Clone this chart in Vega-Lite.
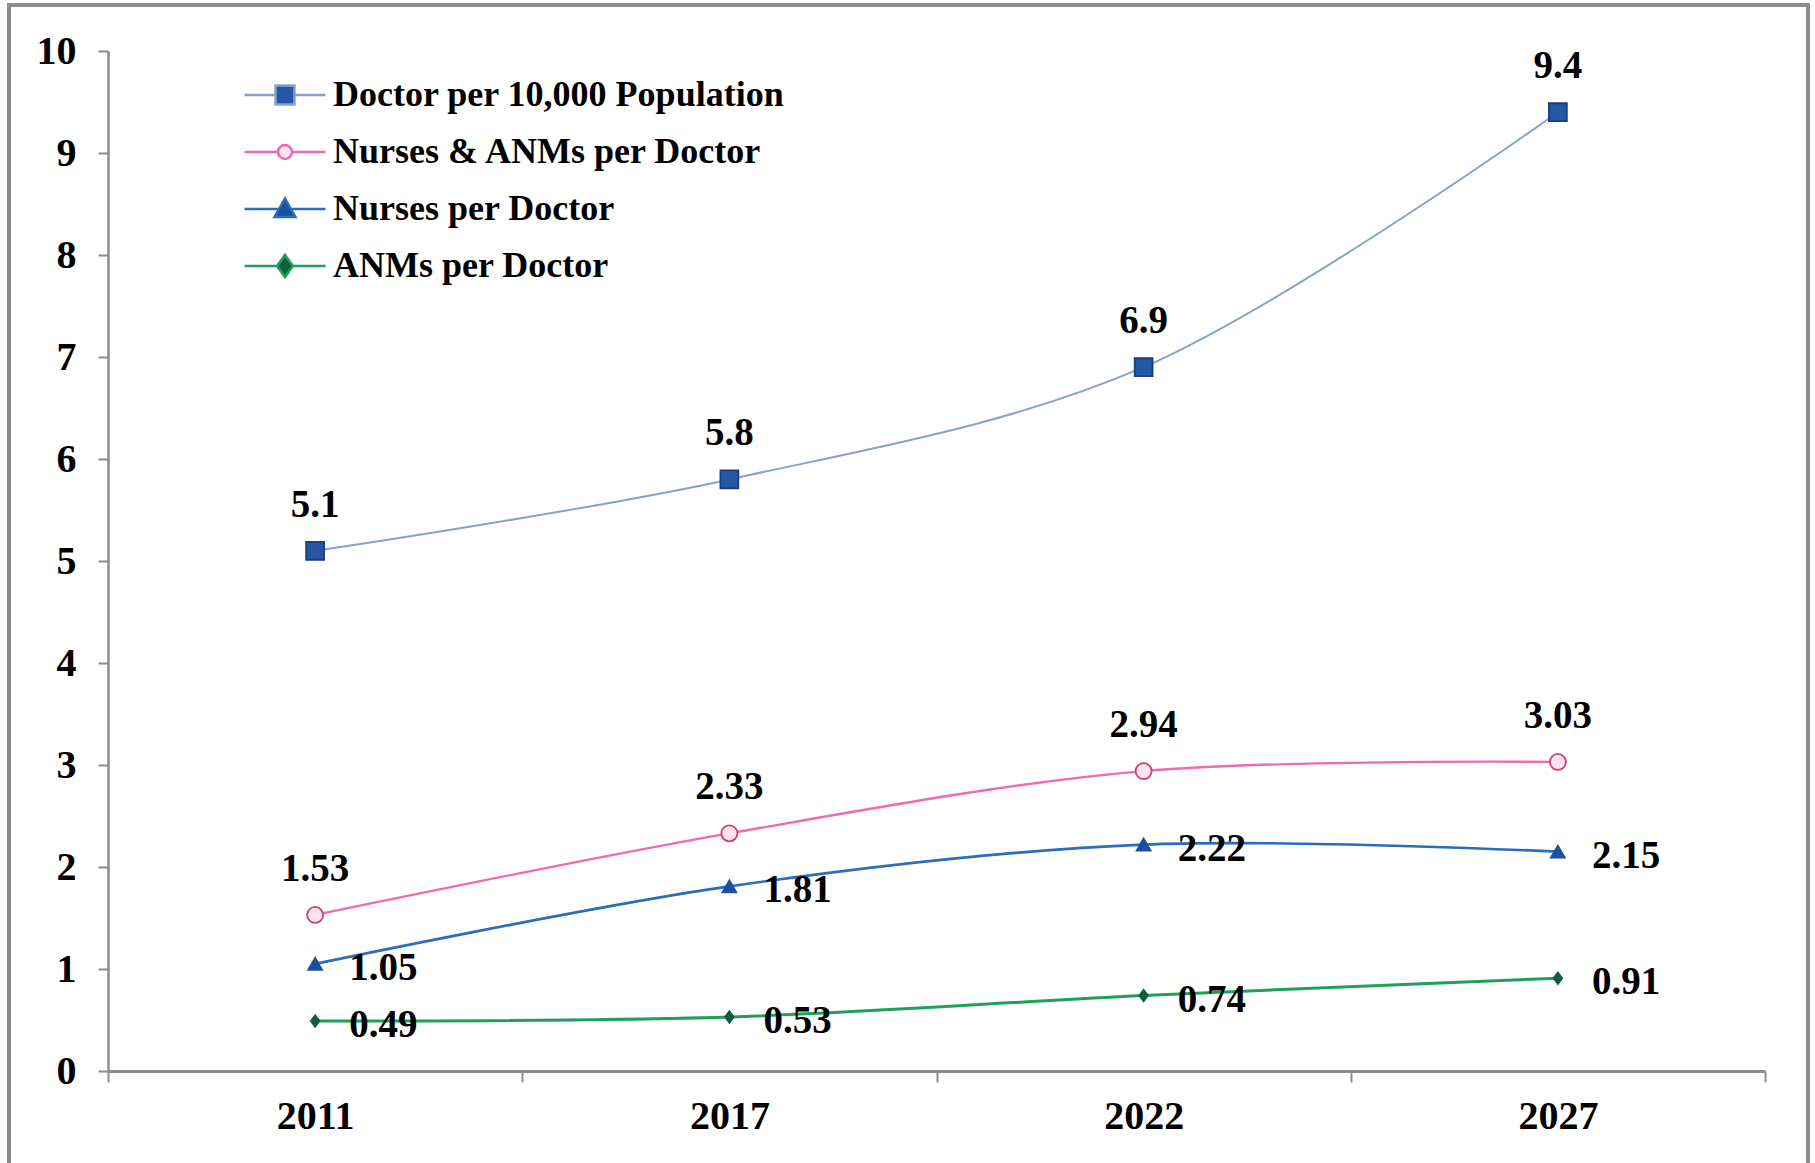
{
  "$schema": "https://vega.github.io/schema/vega-lite/v6.json",
  "width": 1799,
  "height": 1160,
  "autosize": {"type": "none"},
  "padding": {"left": 9, "top": 5, "right": 7, "bottom": 0},
  "background": "white",
  "config": {
    "view": {"stroke": "#8c8c8c", "strokeWidth": 4},
    "font": "Liberation Serif"
  },
  "data": {
    "values": [
      {"year": "2011", "series": "Doctor per 10,000 Population", "value": 5.1},
      {"year": "2017", "series": "Doctor per 10,000 Population", "value": 5.8},
      {"year": "2022", "series": "Doctor per 10,000 Population", "value": 6.9},
      {"year": "2027", "series": "Doctor per 10,000 Population", "value": 9.4},
      {"year": "2011", "series": "Nurses & ANMs per Doctor", "value": 1.53},
      {"year": "2017", "series": "Nurses & ANMs per Doctor", "value": 2.33},
      {"year": "2022", "series": "Nurses & ANMs per Doctor", "value": 2.94},
      {"year": "2027", "series": "Nurses & ANMs per Doctor", "value": 3.03},
      {"year": "2011", "series": "Nurses per Doctor", "value": 1.05},
      {"year": "2017", "series": "Nurses per Doctor", "value": 1.81},
      {"year": "2022", "series": "Nurses per Doctor", "value": 2.22},
      {"year": "2027", "series": "Nurses per Doctor", "value": 2.15},
      {"year": "2011", "series": "ANMs per Doctor", "value": 0.49},
      {"year": "2017", "series": "ANMs per Doctor", "value": 0.53},
      {"year": "2022", "series": "ANMs per Doctor", "value": 0.74},
      {"year": "2027", "series": "ANMs per Doctor", "value": 0.91}
    ]
  },
  "encoding": {
    "x": {
      "field": "year", "type": "nominal", "sort": null,
      "scale": {"type": "band", "domain": ["2011", "2017", "2022", "2027"], "range": [99, 1756], "paddingInner": 0, "paddingOuter": 0},
      "axis": {
        "orient": "bottom", "offset": -94, "title": null, "labelAngle": 0,
        "tickBand": "extent", "tickSize": 11, "tickColor": "#8c8c8c", "tickWidth": 2,
        "domainColor": "#8c8c8c", "domainWidth": 3,
        "labelFont": "Liberation Serif", "labelFontSize": 40, "labelFontWeight": "bold",
        "labelColor": "#000000", "labelPadding": 14, "grid": false
      }
    },
    "y": {
      "field": "value", "type": "quantitative",
      "scale": {"domain": [0, 10], "range": [1066, 46], "nice": false, "zero": false},
      "axis": {
        "orient": "left", "offset": -99, "title": null,
        "values": [0, 1, 2, 3, 4, 5, 6, 7, 8, 9, 10],
        "tickSize": 10, "tickColor": "#8c8c8c", "tickWidth": 2,
        "domainColor": "#8c8c8c", "domainWidth": 2.5,
        "labelFont": "Liberation Serif", "labelFontSize": 40, "labelFontWeight": "bold",
        "labelColor": "#000000", "labelPadding": 22, "grid": false
      }
    }
  },
  "layer": [
    {
      "mark": {"type": "line", "interpolate": "catmull-rom"},
      "encoding": {
        "color": {
          "field": "series", "type": "nominal", "legend": null,
          "scale": {"domain": ["Doctor per 10,000 Population", "Nurses & ANMs per Doctor", "Nurses per Doctor", "ANMs per Doctor"],
                    "range": ["#86a2cc", "#f06aae", "#2a6db8", "#1ea05a"]}
        },
        "strokeWidth": {
          "field": "series", "type": "nominal", "legend": null,
          "scale": {"domain": ["Doctor per 10,000 Population", "Nurses & ANMs per Doctor", "Nurses per Doctor", "ANMs per Doctor"],
                    "range": [2, 3, 3.2, 3.5]}
        }
      }
    },
    {
      "mark": {"type": "point", "filled": true, "opacity": 1, "strokeWidth": 1.8},
      "encoding": {
        "shape": {
          "field": "series", "type": "nominal", "legend": null,
          "scale": {"domain": ["Doctor per 10,000 Population", "Nurses & ANMs per Doctor", "Nurses per Doctor", "ANMs per Doctor"],
                    "range": ["square", "circle", "triangle-up", "M0,-1L0.75,0L0,1L-0.75,0Z"]}
        },
        "size": {
          "field": "series", "type": "nominal", "legend": null,
          "scale": {"domain": ["Doctor per 10,000 Population", "Nurses & ANMs per Doctor", "Nurses per Doctor", "ANMs per Doctor"],
                    "range": [320, 130, 380, 640]}
        },
        "fill": {
          "field": "series", "type": "nominal", "legend": null,
          "scale": {"domain": ["Doctor per 10,000 Population", "Nurses & ANMs per Doctor", "Nurses per Doctor", "ANMs per Doctor"],
                    "range": ["#2457a4", "#fde4ee", "#1d4f9e", "#0f5e3e"]}
        },
        "stroke": {
          "field": "series", "type": "nominal", "legend": null,
          "scale": {"domain": ["Doctor per 10,000 Population", "Nurses & ANMs per Doctor", "Nurses per Doctor", "ANMs per Doctor"],
                    "range": ["#1b3f7a", "#d23f6f", "#1d4f9e", "#0f5e3e"]}
        }
      }
    },
    {
      "transform": [{"filter": "datum.series === 'Doctor per 10,000 Population' || datum.series === 'Nurses & ANMs per Doctor'"}],
      "mark": {"type": "text", "dy": -46, "align": "center", "baseline": "middle", "font": "Liberation Serif", "fontSize": 39, "fontWeight": "bold", "color": "#000000"},
      "encoding": {"text": {"field": "value", "type": "quantitative"}}
    },
    {
      "transform": [{"filter": "datum.series === 'Nurses per Doctor' || datum.series === 'ANMs per Doctor'"}],
      "mark": {"type": "text", "dx": 34, "dy": 4, "align": "left", "baseline": "middle", "font": "Liberation Serif", "fontSize": 39, "fontWeight": "bold", "color": "#000000"},
      "encoding": {"text": {"field": "value", "type": "quantitative"}}
    },
    {
      "transform": [{"filter": "false"}],
      "mark": {"type": "point", "filled": true, "strokeWidth": 2.5},
      "encoding": {
        "shape": {
          "field": "series", "type": "nominal",
          "scale": {"domain": ["Doctor per 10,000 Population", "Nurses & ANMs per Doctor", "Nurses per Doctor", "ANMs per Doctor"],
                    "range": [
                      "M-4.05,0H-0.95M0.95,0H4.05M-0.95,-0.95H0.95V0.95H-0.95Z",
                      "M-4.05,0H-0.7M0.7,0H4.05M-0.7,0A0.7,0.7 0 1,0 0.7,0A0.7,0.7 0 1,0 -0.7,0Z",
                      "M-4.05,0H-0.6M0.6,0H4.05M0,-1.05L1.05,0.8H-1.05Z",
                      "M-4.05,0H-0.8M0.8,0H4.05M0,-1.1L0.8,0L0,1.1L-0.8,0Z"
                    ]},
          "legend": {
            "title": null, "orient": "none", "legendX": 258, "legendY": 72, "padding": 0,
            "symbolSize": 400, "symbolStrokeWidth": 2.5, "symbolOpacity": 1,
            "labelFont": "Liberation Serif", "labelFontSize": 36, "labelFontWeight": "bold", "labelColor": "#000000",
            "labelOffset": 30, "rowPadding": 21, "labelLimit": 900
          }
        },
        "fill": {
          "field": "series", "type": "nominal",
          "scale": {"domain": ["Doctor per 10,000 Population", "Nurses & ANMs per Doctor", "Nurses per Doctor", "ANMs per Doctor"],
                    "range": ["#2457a4", "#fde4ee", "#1d4f9e", "#0f5e3e"]}
        },
        "stroke": {
          "field": "series", "type": "nominal",
          "scale": {"domain": ["Doctor per 10,000 Population", "Nurses & ANMs per Doctor", "Nurses per Doctor", "ANMs per Doctor"],
                    "range": ["#86a2cc", "#f06aae", "#2a6db8", "#1ea05a"]}
        }
      }
    }
  ],
  "resolve": {"scale": {"shape": "independent", "fill": "independent", "stroke": "independent", "size": "independent"}}
}
